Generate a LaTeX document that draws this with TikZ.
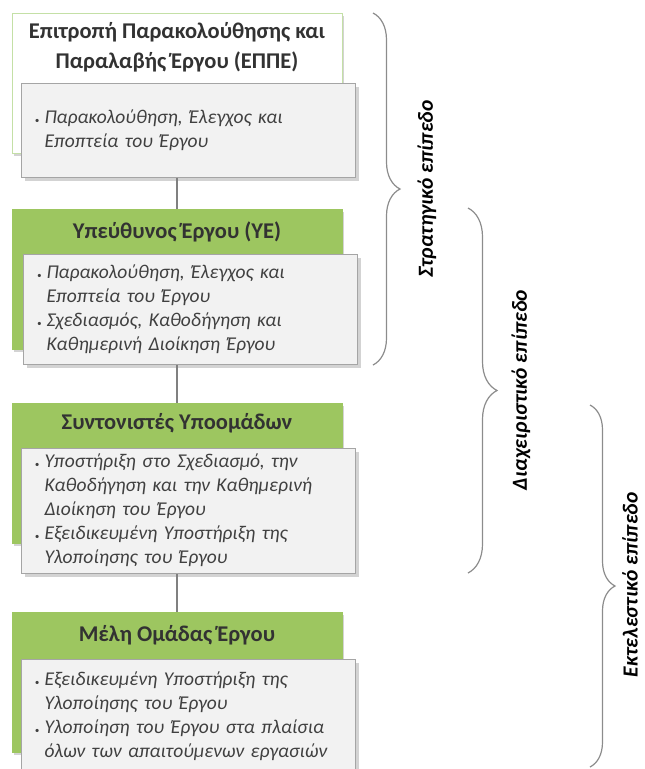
\documentclass[tikz,border=0pt]{standalone}
\usepackage{fontspec}
\setmainfont{Carlito}
\usetikzlibrary{decorations.pathreplacing,shadows}
\definecolor{rolegreen}{RGB}{157,198,96}
\definecolor{paleborder}{RGB}{196,224,166}
\definecolor{taskfill}{RGB}{242,242,242}
\definecolor{taskline}{RGB}{165,165,165}
\definecolor{darktext}{RGB}{50,50,50}
\definecolor{tasktext}{RGB}{64,64,64}
\definecolor{bracegray}{RGB}{140,140,140}
\newcommand\bul{\makebox[11pt][l]{\hspace{1.5pt}\small•}}
\newcommand\ind{\hspace*{11pt}}
\tikzset{
  rolebox/.style={rectangle, draw=rolegreen, fill=rolegreen, minimum width=330pt,
    minimum height=140pt, inner sep=0pt,
    drop shadow={shadow xshift=2pt, shadow yshift=-3pt, opacity=0.35}},
  roletitle/.style={align=center, text=darktext, font=\fontsize{22.5}{30}\selectfont\bfseries},
  taskbox/.style={rectangle, draw=taskline, fill=taskfill, minimum width=329pt,
    text width=310pt, inner xsep=12pt, align=left, text=tasktext,
    font=\fontsize{19.5}{24}\selectfont\itshape,
    drop shadow={shadow xshift=3pt, shadow yshift=-4pt, opacity=0.35}},
  linkline/.style={draw=gray, line width=1.3pt},
  levelbrace/.style={draw=bracegray, line width=1.2pt, decorate,
    decoration={brace}},
  levellabel/.style={rotate=90, inner sep=0pt, text=black, font=\fontsize{21.5}{24}\selectfont\bfseries\itshape}
}
\begin{document}
\begin{tikzpicture}[x=1pt, y=-1pt]
  \useasboundingbox (0,0) rectangle (645,769);
  % role boxes
  \node [rolebox, fill=white, draw=paleborder] at (177,83) (eppe) {} ;
  \node [rolebox] at (177,279) (ye) {} ;
  \node [rolebox] at (177,473) (syn) {} ;
  \node [rolebox] at (177,682) (meli) {} ;
  \draw[linkline] (eppe) -- (ye) ;
  \draw[linkline] (ye) -- (syn) ;
  \draw[linkline] (syn) -- (meli) ;
  \node [roletitle] at (177,47) (eppe title) {Επιτροπή Παρακολούθησης και\\Παραλαβής Έργου (ΕΠΠΕ)} ;
  \node [roletitle] at (177,232) (ye title) {Υπεύθυνος Έργου (ΥΕ)} ;
  \node [roletitle] at (177,423) (syn title) {Συντονιστές Υποομάδων} ;
  \node [roletitle] at (177,635) (meli title) {Μέλη Ομάδας Έργου} ;
  % task boxes
  \node [taskbox, minimum height=94pt] at (188.5,130) (eppe tasks)
    {\bul Παρακολούθηση, Έλεγχος και\\\ind Εποπτεία του Έργου} ;
  \node [taskbox, minimum height=110pt] at (190.5,309) (ye tasks)
    {\bul Παρακολούθηση, Έλεγχος και\\\ind Εποπτεία του Έργου\\
     \bul Σχεδιασμός, Καθοδήγηση και\\\ind Καθημερινή Διοίκηση Έργου} ;
  \node [taskbox, minimum height=125pt] at (188.5,510.5) (syn tasks)
    {\bul Υποστήριξη στο Σχεδιασμό, την\\\ind Καθοδήγηση και την Καθημερινή\\\ind Διοίκηση του Έργου\\
     \bul Εξειδικευμένη Υποστήριξη της\\\ind Υλοποίησης του Έργου} ;
  \node [taskbox, minimum height=114pt] at (188.5,716) (meli tasks)
    {\bul Εξειδικευμένη Υποστήριξη της\\\ind Υλοποίησης του Έργου\\
     \bul Υλοποίηση του Έργου στα πλαίσια\\\ind όλων των απαιτούμενων εργασιών} ;
  % levels
  \coordinate (str top) at (373,13) ;
  \coordinate (str bot) at (373,365) ;
  \coordinate (dia top) at (468,208) ;
  \coordinate (dia bot) at (468,573) ;
  \coordinate (ekt top) at (590,405) ;
  \coordinate (ekt bot) at (590,767) ;
  \draw[levelbrace, decoration={amplitude=27pt}] (str top) -- (str bot) ;
  \draw[levelbrace, decoration={amplitude=29pt}] (dia top) -- (dia bot) ;
  \draw[levelbrace, decoration={amplitude=25pt}] (ekt top) -- (ekt bot) ;
  \node [levellabel] at (427,189) (str label) {Στρατηγικό επίπεδο} ;
  \node [levellabel] at (521,390) (dia label) {Διαχειριστικό επίπεδο} ;
  \node [levellabel] at (630,585) (ekt label) {Εκτελεστικό επίπεδο} ;
\end{tikzpicture}
\end{document}
